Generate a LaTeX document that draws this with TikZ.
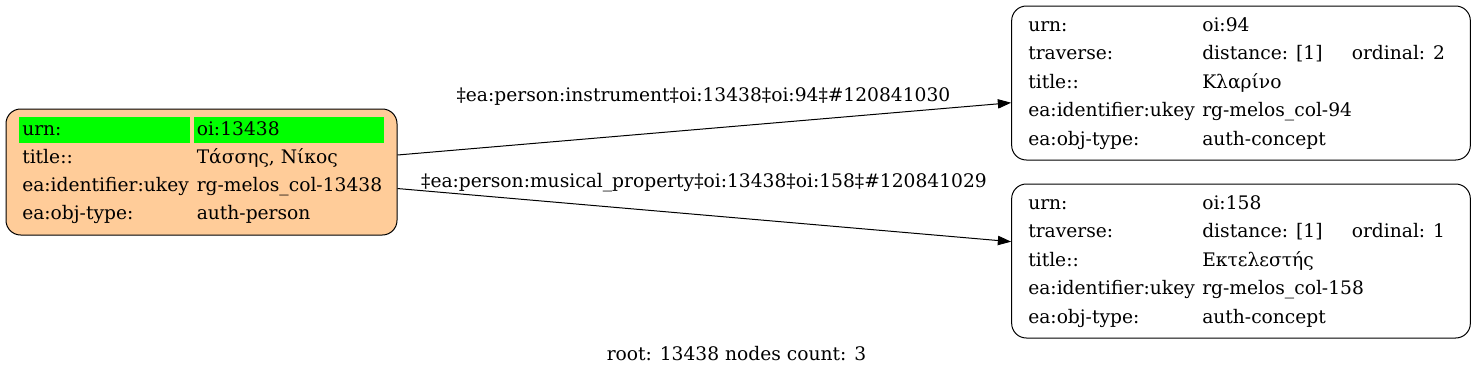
\documentclass[tikz,border=0pt]{standalone}
\usepackage{fontspec}
\setmainfont{DejaVu Serif}
\usetikzlibrary{arrows.meta}

\definecolor{peach}{HTML}{FFCC99}
\definecolor{urngreen}{HTML}{00FF00}

\begin{document}
\begin{tikzpicture}[x=0.75pt, y=-0.75pt, >={Triangle[length=10pt, width=7pt]},
  recbox/.style={draw, line width=0.75pt, rounded corners=11pt, inner sep=0pt},
  txt/.style={anchor=base west, inner sep=0pt, font=\fontsize{14}{16}\selectfont},
  lbl/.style={anchor=base, inner sep=0pt, font=\fontsize{14}{16}\selectfont}]

  \useasboundingbox (0,0) rectangle (1476,375);

  % --- 1. Knoten-Rahmen ---
  \node[recbox, fill=peach, minimum width=293.25pt, minimum height=94.5pt] (root) at (201.5,172) {};
  \node[recbox, minimum width=344pt, minimum height=115.5pt] (n94) at (1241,83) {};
  \node[recbox, minimum width=344pt, minimum height=115.5pt] (n158) at (1241,261) {};

  % --- 2. Wurzel: markierte Zeile urn ---
  \fill[urngreen] (18.5,117) rectangle (190,142.5);
  \fill[urngreen] (193.5,117) rectangle (384,142.5);

  % --- 3. Wurzel: Felder ---
  \foreach \k/\v [count=\i from 0] in {urn:/oi:13438, title::/{Τάσσης, Νίκος},
      ea:identifier:ukey/rg-melos\_col-13438, ea:obj-type:/auth-person} {
    \node[txt] (rootk\i) at (22,135+28*\i) {\k};
    \node[txt] (rootv\i) at (196.5,135+28*\i) {\v};
  }

  % --- 4. Zielknoten oi:94 und oi:158 ---
  \foreach \n/\y/\u/\t/\o in {n94/31/94/Κλαρίνο/2, n158/209/158/Εκτελεστής/1} {
    \node[txt] (\n k0) at (1028,\y) {urn:};
    \node[txt] (\n v0) at (1202,\y) {oi:\u};
    \node[txt] (\n k1) at (1028,\y+28.5) {traverse:};
    \node[txt] (\n v1) at (1202,\y+28.5) {distance: [1]};
    \node[txt] (\n o1) at (1351.5,\y+28.5) {ordinal: \o};
    \node[txt] (\n k2) at (1028,\y+57) {title::};
    \node[txt] (\n v2) at (1202,\y+57) {\t};
    \node[txt] (\n k3) at (1028,\y+85.5) {ea:identifier:ukey};
    \node[txt] (\n v3) at (1202,\y+85.5) {rg-melos\_col-\u};
    \node[txt] (\n k4) at (1028,\y+114) {ea:obj-type:};
    \node[txt] (\n v4) at (1202,\y+114) {auth-concept};
  }

  % --- 5. Kanten ---
  \draw[->, line width=0.75pt] ([yshift=12.75pt]root.east) -- ([yshift=-14.8pt]n94.west);
  \draw[->, line width=0.75pt] ([yshift=-12.4pt]root.east) -- ([yshift=14.5pt]n158.west);

  \node[lbl] (lblinstr) at (703.5,101) {‡ea:person:instrument‡oi:13438‡oi:94‡\#120841030};
  \node[lbl] (lblmusic) at (704,187) {‡ea:person:musical\_property‡oi:13438‡oi:158‡\#120841029};

  % --- 6. Fusszeile ---
  \node[lbl] (footer) at (736.5,360) {root: 13438 nodes count: 3};

\end{tikzpicture}
\end{document}
